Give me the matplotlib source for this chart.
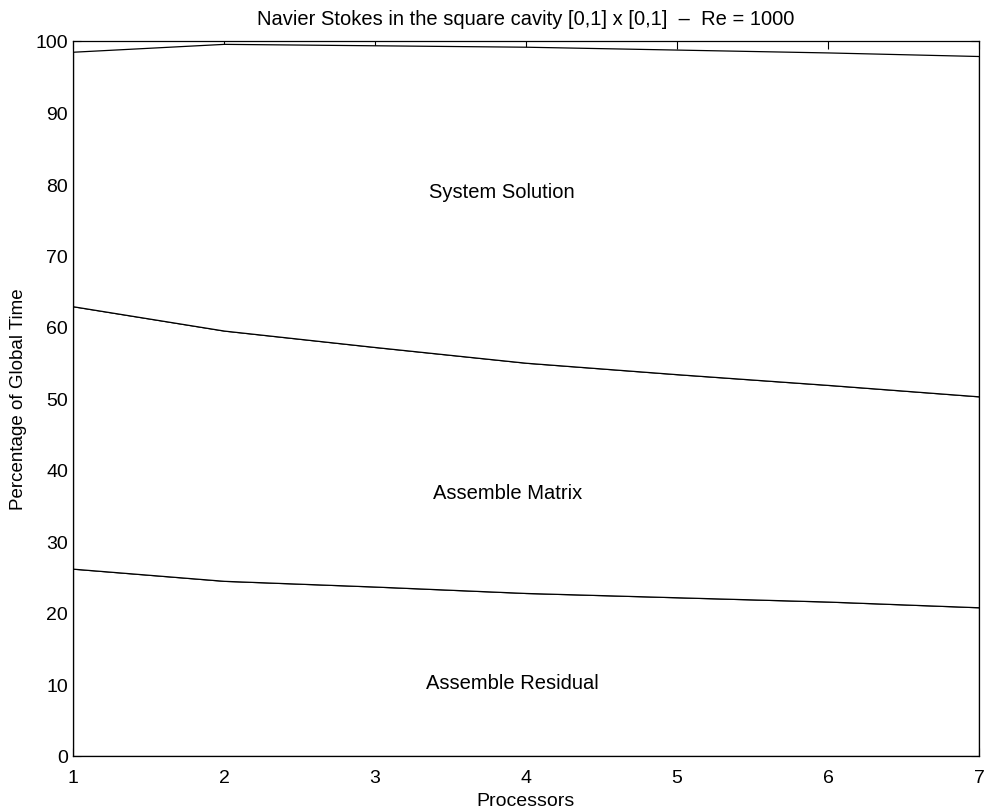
import matplotlib
matplotlib.use("Agg")
import matplotlib.pyplot as plt
import numpy as np

plt.rcParams['font.family'] = ['Liberation Sans', 'DejaVu Sans']

processors = [1, 2, 3, 4, 5, 6, 7]
assemble_residual = [26.2, 24.5, 23.7, 22.8, 22.2, 21.6, 20.8]
assemble_matrix = [36.7, 35.0, 33.5, 32.2, 31.2, 30.3, 29.5]
system_solution = [35.6, 40.1, 42.2, 44.2, 45.4, 46.5, 47.6]
labels = ["Assemble Residual", "Assemble Matrix", "System Solution"]
label_pos = [(3.91, 10.3), (3.88, 36.8), (3.84, 79.0)]

fig = plt.figure(figsize=(9.84, 8.12), dpi=100)
ax = fig.add_axes([73/984, 55/812, (979-73)/984, (757-42)/812])

x = np.array(processors)
base = np.zeros(len(x))
for vals in [assemble_residual, assemble_matrix, system_solution]:
    top = base + np.array(vals)
    ax.fill_between(x, base, top, facecolor='white', edgecolor='black',
                    linewidth=0.9, zorder=1)
    base = top

for lab, (px, py) in zip(labels, label_pos):
    ax.text(px, py, lab, ha='center', va='center', fontsize=14.5)

ax.set_xlim(1, 7)
ax.set_ylim(0, 100)
ax.set_xticks(processors)
ax.set_yticks(range(0, 101, 10))
ax.set_axisbelow(True)
ax.tick_params(direction='in', length=6, width=0.8, top=True, right=True,
               labelsize=14)
ax.tick_params(axis='x', pad=9.5)
for s in ax.spines.values():
    s.set_linewidth(0.9)
ax.set_xlabel("Processors", fontsize=14, labelpad=4)
ax.set_ylabel("Percentage of Global Time", fontsize=13.5, labelpad=6)
ax.set_title("Navier Stokes in the square cavity [0,1] x [0,1]  \u2013  Re = 1000",
             fontsize=14.5, pad=12)

fig.savefig("out.png", dpi=100)
